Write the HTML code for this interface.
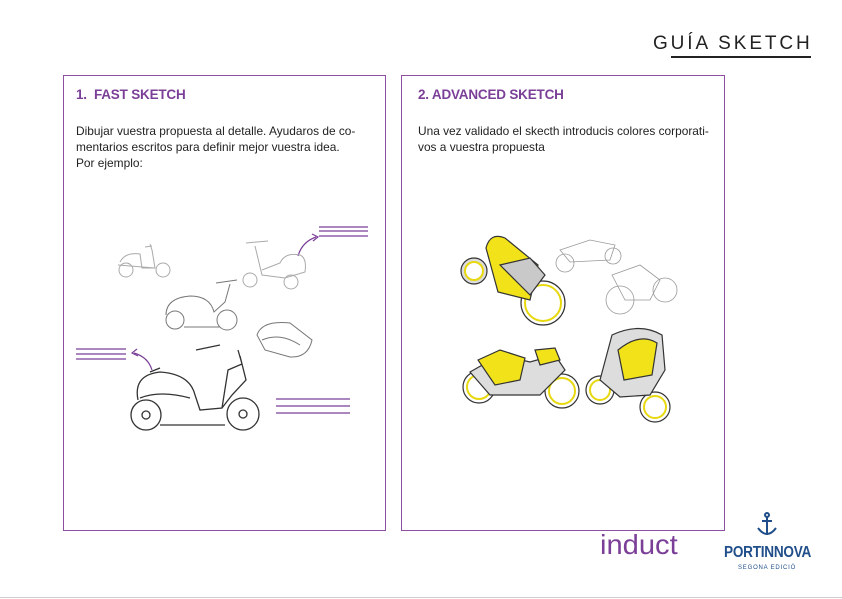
<!DOCTYPE html>
<html><head><meta charset="utf-8"><style>
body{margin:0;width:842px;height:599px;background:#fff;overflow:hidden;font-family:"Liberation Sans",sans-serif;position:relative}
.box{position:absolute;top:75px;height:456px;border:1px solid #8e4fa0;box-sizing:border-box}
.h{position:absolute;font-weight:bold;font-size:13.5px;color:#7b3f98;letter-spacing:-0.2px}
.t{position:absolute;font-size:11.9px;line-height:16px;color:#222;letter-spacing:0px;white-space:nowrap}
</style></head><body>
<div style="position:absolute;left:653px;top:33px;font-size:19px;letter-spacing:2.9px;color:#222">GUÍA SKETCH</div>
<div style="position:absolute;left:671px;top:56px;width:140px;height:1.5px;background:#222"></div>
<div class="box" style="left:63px;width:323px"></div>
<div class="box" style="left:401px;width:324px"></div>
<div class="h" style="left:76px;top:87px">1.&nbsp; FAST SKETCH</div>
<div class="h" style="left:418px;top:87px">2. ADVANCED SKETCH</div>
<div class="t" style="left:76px;top:123px">Dibujar vuestra propuesta al detalle. Ayudaros de co-<br>mentarios escritos para definir mejor vuestra idea.<br>Por ejemplo:</div>
<div class="t" style="left:418px;top:123px">Una vez validado el skecth introducis colores corporati-<br>vos a vuestra propuesta</div>
<svg width="842" height="599" style="position:absolute;left:0;top:0" fill="none">
<g stroke="#7b3f98" stroke-width="1.2">
<path d="M319 227H368M319 231H368M319 236H368"/>
<path d="M76 349H126M76 354H126M76 359H126"/>
<path d="M276 399H350M276 406H350M276 413H350"/>
<path d="M298 256Q302 242 316 237"/><path d="M312 234L318 237L313 241"/>
<path d="M152 370Q148 357 134 353"/><path d="M137 349L132 353L138 356"/>
</g>
<g stroke="#aaa" stroke-width="1">
<circle cx="126" cy="270" r="7"/><circle cx="163" cy="270" r="7"/><path d="M120 262Q125 252 140 254L142 268L155 268L152 250L150 244M118 265L155 268M145 247L152 246"/>
<circle cx="250" cy="280" r="7"/><circle cx="291" cy="282" r="7"/><path d="M246 243L268 241M255 246L262 275L285 278L305 272Q307 258 300 255Q285 252 280 263L262 270"/>
</g>
<g stroke="#777" stroke-width="1">
<circle cx="175" cy="320" r="9"/><circle cx="227" cy="320" r="10"/><path d="M166 315Q166 298 190 296Q210 296 214 312L225 302L230 284M216 283L237 280M184 327L220 327"/>
<path d="M257 335Q262 320 290 323L312 340Q308 358 290 357L265 350Z"/><path d="M262 340Q280 332 300 345"/>
</g>
<g stroke="#333" stroke-width="1.3">
<circle cx="146" cy="415" r="15"/><circle cx="146" cy="415" r="4"/><circle cx="243" cy="414" r="16"/><circle cx="243" cy="414" r="4"/>
<path d="M138 400Q133 375 160 372Q190 374 195 395L200 410L222 408L228 370L242 364L238 350M196 350L220 345M240 356L246 380L232 395L222 408M160 425L225 425M150 372L160 368"/>
<path d="M140 398Q160 390 190 398"/>
</g>
<g stroke="#333" stroke-width="1.2">
<circle cx="474" cy="271" r="13" fill="#ddd"/><circle cx="474" cy="271" r="9" fill="#fff" stroke="#e8d80f" stroke-width="2"/>
<circle cx="543" cy="303" r="22" fill="#fff"/><circle cx="543" cy="303" r="18" fill="none" stroke="#e8d80f" stroke-width="2"/>
<path d="M486 248Q490 232 505 238L538 265L530 300L498 292Z" fill="#f1e21a"/>
<path d="M500 265L530 258L545 275L530 295Z" fill="#c9c9c9"/>
<circle cx="479" cy="387" r="16" fill="#fff"/><circle cx="479" cy="387" r="12" stroke="#e8d80f" stroke-width="2"/>
<circle cx="562" cy="391" r="17" fill="#fff"/><circle cx="562" cy="391" r="13" stroke="#e8d80f" stroke-width="2"/>
<path d="M470 372L500 355L530 362L555 355L565 370L540 395L490 395Z" fill="#ddd"/>
<path d="M478 360L500 350L525 358L520 380L495 385Z" fill="#f1e21a"/><path d="M535 350L555 348L560 360L540 365Z" fill="#f1e21a"/>
<circle cx="600" cy="390" r="14" fill="#fff"/><circle cx="600" cy="390" r="10" stroke="#e8d80f" stroke-width="2"/>
<circle cx="655" cy="407" r="15" fill="#fff"/><circle cx="655" cy="407" r="11" stroke="#e8d80f" stroke-width="2"/>
<path d="M612 335Q640 322 662 335L665 370L650 395L620 397L600 380Z" fill="#ddd"/>
<path d="M618 350Q640 332 657 343L652 375L624 380Z" fill="#f1e21a"/>
</g>
<g stroke="#999" stroke-width="0.8">
<circle cx="565" cy="263" r="9"/><circle cx="613" cy="256" r="8"/><path d="M560 250L590 240L615 245L610 260L570 262Z"/>
<circle cx="620" cy="300" r="14"/><circle cx="665" cy="290" r="12"/><path d="M612 275L640 265L660 280L650 300L625 300Z"/>
</g>
<path d="M0 597.5H842" stroke="#ccc" stroke-width="1"/>
<g stroke="#1f4e8a" stroke-width="2" fill="none"><path d="M767 517V535M762 521H772M758 528Q767 540 776 528"/><circle cx="767" cy="515" r="2"/></g>
</svg>
<div style="position:absolute;left:600px;top:531px;font-size:28px;color:#7b3f98;font-weight:normal;line-height:28px;transform:scaleX(1.04);transform-origin:left">induct</div>
<div style="position:absolute;left:724px;top:544px;font-size:16px;font-weight:bold;color:#1f4e8a;letter-spacing:-0.3px;transform:scaleX(0.85);transform-origin:left">PORTINNOVA</div>
<div style="position:absolute;left:738px;top:565px;font-size:6px;color:#1f4e8a;letter-spacing:0.8px">SEGONA EDICIÓ</div>
</body></html>
